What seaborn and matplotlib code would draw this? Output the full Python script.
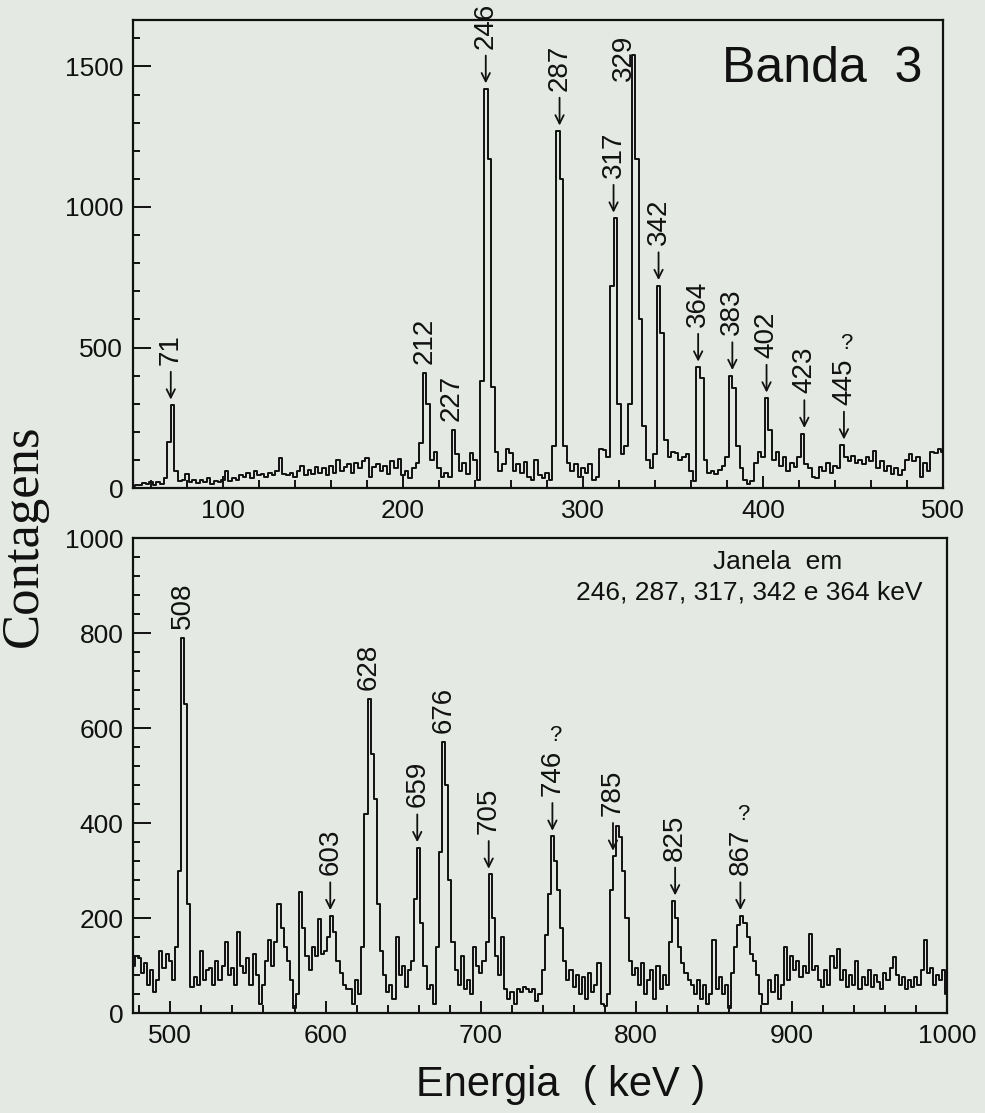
import numpy as np
import pandas as pd
import matplotlib
matplotlib.use("Agg")
import matplotlib.pyplot as plt
import seaborn as sns
from matplotlib.ticker import MultipleLocator

# ------------------------------------------------------------------ data
# upper spectrum: 2 keV bins, first bin centred at 50 keV
top_start_kev = 50
top_bin_kev = 2
top_counts = [
    8, 12, 10, 18, 14, 22, 12, 20, 16, 35,            # 50-68
    165, 295, 60, 25, 30, 50, 22, 30, 18, 28,         # 70-88
    20, 35, 15, 25, 20, 30, 60, 25, 35, 28,           # 90-108
    45, 40, 55, 35, 60, 45, 50, 40, 55, 45,           # 110-128
    60, 108, 50, 45, 55, 40, 60, 80, 45, 65,          # 130-148
    50, 75, 55, 70, 45, 80, 55, 100, 60, 75,          # 150-168
    85, 55, 90, 70, 95, 108, 40, 75, 85, 60,          # 170-188
    80, 50, 95, 70, 105, 45, 60, 35, 70, 90,          # 190-208
    160, 410, 300, 100, 130, 70, 40, 55, 40, 208,     # 210-228
    120, 60, 90, 50, 124, 100, 30, 380, 1420, 1170,   # 230-248
    360, 130, 60, 85, 140, 124, 60, 85, 55, 93,       # 250-268
    40, 30, 100, 45, 35, 55, 30, 150, 1270, 1100,     # 270-288
    150, 90, 60, 85, 40, 70, 55, 85, 30, 40,          # 290-308
    140, 134, 110, 720, 960, 300, 120, 150, 300, 1540,  # 310-328
    1170, 600, 220, 100, 70, 120, 720, 550, 170, 110,   # 330-348
    130, 125, 100, 110, 120, 60, 25, 430, 390, 100,   # 350-368
    55, 60, 50, 65, 80, 110, 400, 355, 150, 70,       # 370-388
    30, 15, 25, 90, 130, 110, 320, 205, 100, 130,     # 390-408
    80, 110, 60, 90, 75, 110, 194, 85, 70, 40,        # 410-428
    35, 75, 60, 90, 55, 80, 70, 153, 110, 95,         # 430-448
    115, 90, 100, 85, 110, 95, 133, 70, 95, 60,       # 450-468
    80, 50, 70, 45, 65, 100, 120, 95, 110, 40,        # 470-488
    90, 60, 130, 125, 140, 130,                       # 490-500
]

# lower spectrum: 2 keV bins, first bin centred at 476 keV
bottom_start_kev = 476
bottom_bin_kev = 2
bottom_counts = [
    100, 120, 115, 85, 105, 60, 90, 45, 70, 130,      # 476-494
    95, 125, 110, 70, 140, 300, 790, 650, 230, 55,    # 496-514
    75, 60, 130, 70, 90, 95, 60, 110, 70, 100,        # 516-534
    150, 80, 95, 60, 170, 100, 85, 115, 60, 124,      # 536-554
    80, 20, 60, 110, 153, 100, 150, 230, 180, 140,    # 556-574
    110, 70, 10, 40, 255, 180, 120, 90, 140, 120,     # 576-594
    198, 125, 130, 160, 205, 170, 110, 85, 60, 50,    # 596-614
    50, 20, 70, 40, 140, 420, 662, 545, 450, 230,     # 616-634
    130, 80, 45, 60, 30, 160, 80, 100, 55, 90,        # 636-654
    110, 240, 348, 190, 100, 50, 60, 20, 140, 340,    # 656-674
    571, 480, 280, 150, 90, 60, 120, 50, 70, 40,      # 676-694
    139, 100, 85, 110, 150, 292, 200, 120, 80, 160,   # 696-714
    50, 30, 45, 20, 50, 45, 55, 50, 45, 50,           # 716-734
    25, 40, 90, 165, 250, 372, 320, 260, 180, 110,    # 736-754
    70, 90, 55, 80, 40, 75, 30, 85, 45, 60,           # 756-774
    105, 20, 15, 40, 260, 330, 393, 370, 300, 200,    # 776-794
    110, 80, 95, 60, 105, 40, 70, 90, 30, 100,        # 796-814
    50, 80, 60, 150, 236, 200, 140, 105, 85, 70,      # 816-834
    60, 40, 70, 30, 60, 20, 40, 153, 50, 75,          # 836-854
    40, 60, 10, 85, 140, 185, 205, 190, 160, 125,     # 856-874
    110, 80, 40, 20, 20, 70, 45, 80, 30, 60,          # 876-894
    140, 70, 120, 90, 110, 75, 100, 85, 167, 90,      # 896-914
    100, 70, 55, 90, 60, 120, 95, 135, 70, 90,        # 916-934
    55, 80, 60, 110, 50, 75, 60, 90, 55, 80,          # 936-954
    65, 50, 85, 70, 95, 117, 80, 60, 75, 50,          # 956-974
    70, 55, 75, 60, 90, 153, 85, 95, 60, 80,          # 976-994
    70, 90, 40,                                       # 996-1000
]

top_peak_energies = [71, 212, 227, 246, 287, 317, 329, 342, 364, 383, 402, 423, 445]
top_peak_labels = ["← 71", "212", "227", "← 246", "← 287", "← 317", "329",
                   "← 342", "← 364", "← 383", "← 402", "← 423", "← 445"]
top_uncertain = [445]

bottom_peak_energies = [508, 603, 628, 659, 676, 705, 746, 785, 825, 867]
bottom_peak_labels = ["508", "← 603", "628", "← 659", "676", "← 705",
                      "← 746", "← 785", "← 825", "← 867"]
bottom_uncertain = [746, 867]

top_xticks = [100, 200, 300, 400, 500]
top_yticks = [0, 500, 1000, 1500]
bottom_xticks = [500, 600, 700, 800, 900, 1000]
bottom_yticks = [0, 200, 400, 600, 800, 1000]

top_title = "Banda  3"
window_line1 = "Janela  em"
window_line2 = "246, 287, 317, 342 e 364 keV"
y_title = "Contagens"
x_title = "Energia  ( keV )"

# ------------------------------------------------------------------ style
BG = "#e4eae3"
INK = "#111111"
sns.set_theme(style="ticks", rc={
    "figure.facecolor": BG,
    "axes.facecolor": BG,
    "axes.edgecolor": INK,
    "axes.linewidth": 1.6,
    "xtick.color": INK,
    "ytick.color": INK,
    "text.color": INK,
})
SANS = ["Liberation Sans", "DejaVu Sans"]
plt.rcParams["font.family"] = SANS

LABEL_FS = 20
ARROW_GAP = 4      # pt between peak top and arrow tip
ARROW_LEN = 20     # pt
NUMBER_GAP = 5     # pt between arrow tail and number

fig = plt.figure(figsize=(9.85, 11.13), dpi=100)
ax1 = fig.add_axes([0.135, 0.5615, 0.8223, 0.4205])
ax2 = fig.add_axes([0.135, 0.0898, 0.8264, 0.4268])


def spectrum_frame(start, step, counts):
    energies = start + step * np.arange(len(counts))
    return pd.DataFrame({"Energia": energies, "Contagens": counts})


def draw_spectrum(ax, df):
    sns.lineplot(data=df, x="Energia", y="Contagens", ax=ax, color=INK,
                 linewidth=1.4, drawstyle="steps-mid", estimator=None)
    ax.set_xlabel("")
    ax.set_ylabel("")


def style_axes(ax, xlim, ylim, xticks, yticks, xminor, yminor):
    ax.set_xlim(*xlim)
    ax.set_ylim(*ylim)
    ax.set_xticks(xticks)
    ax.set_yticks(yticks)
    ax.xaxis.set_minor_locator(MultipleLocator(xminor))
    ax.yaxis.set_minor_locator(MultipleLocator(yminor))
    ax.tick_params(axis="both", which="both", direction="in",
                   top=False, right=False, labelsize=19, width=1.4, color=INK)
    ax.tick_params(axis="x", which="major", length=9, pad=8)
    ax.tick_params(axis="x", which="minor", length=6)
    ax.tick_params(axis="y", which="major", length=13, pad=7)
    ax.tick_params(axis="y", which="minor", length=5)
    for s in ax.spines.values():
        s.set_visible(True)
        s.set_linewidth(1.6)
        s.set_color(INK)


def label_peaks(ax, df, energies, labels, uncertain, beside=None):
    beside = beside or {}
    for E, lab in zip(energies, labels):
        near = df.loc[(df["Energia"] - E).abs() <= 2, "Contagens"].max()
        if E in beside:
            dx, y = beside[E]
            ax.annotate(lab, xy=(E + dx, y), rotation=90, ha="center",
                        va="center", fontsize=LABEL_FS, annotation_clip=False)
            continue
        if lab.startswith("←"):
            number = lab.split(" ", 1)[1]
            tail = ARROW_GAP + ARROW_LEN
            ax.annotate("", xy=(E, near), xytext=(0, tail),
                        textcoords="offset points", annotation_clip=False,
                        arrowprops=dict(arrowstyle="->", color=INK, lw=1.3,
                                        shrinkA=0, shrinkB=ARROW_GAP,
                                        mutation_scale=15))
            offset = tail + NUMBER_GAP
        else:
            number = lab
            offset = 6
        t = ax.annotate(number, xy=(E, near), xytext=(0, offset),
                        textcoords="offset points", rotation=90,
                        ha="center", va="bottom", fontsize=LABEL_FS,
                        annotation_clip=False)
        if E in uncertain:
            ax.annotate("?", xy=(0.5, 1.0), xycoords=t, xytext=(2, 3),
                        textcoords="offset points", ha="center",
                        va="bottom", fontsize=16, annotation_clip=False)


top_df = spectrum_frame(top_start_kev, top_bin_kev, top_counts)
bot_df = spectrum_frame(bottom_start_kev, bottom_bin_kev, bottom_counts)

draw_spectrum(ax1, top_df)
style_axes(ax1, (50, 500), (0, 1665), top_xticks, top_yticks, 20, 100)
label_peaks(ax1, top_df, top_peak_energies, top_peak_labels, top_uncertain,
            beside={329: (-6.5, 1530)})
ax1.text(0.975, 0.945, top_title, transform=ax1.transAxes, ha="right",
         va="top", fontsize=36)

draw_spectrum(ax2, bot_df)
style_axes(ax2, (476, 1000), (0, 1000), bottom_xticks, bottom_yticks, 20, 40)
label_peaks(ax2, bot_df, bottom_peak_energies, bottom_peak_labels,
            bottom_uncertain)
ax2.text(0.792, 0.949, window_line1, transform=ax2.transAxes, ha="center",
         va="center", fontsize=19)
ax2.text(0.757, 0.886, window_line2, transform=ax2.transAxes, ha="center",
         va="center", fontsize=19)

fig.text(0.024, 0.519, y_title, rotation=90, ha="center", va="center",
         fontsize=38, family=["Liberation Serif", "DejaVu Serif"])
fig.text(0.569, 0.025, x_title, ha="center", va="center", fontsize=30)

fig.savefig("out.png", dpi=100, facecolor=BG)
